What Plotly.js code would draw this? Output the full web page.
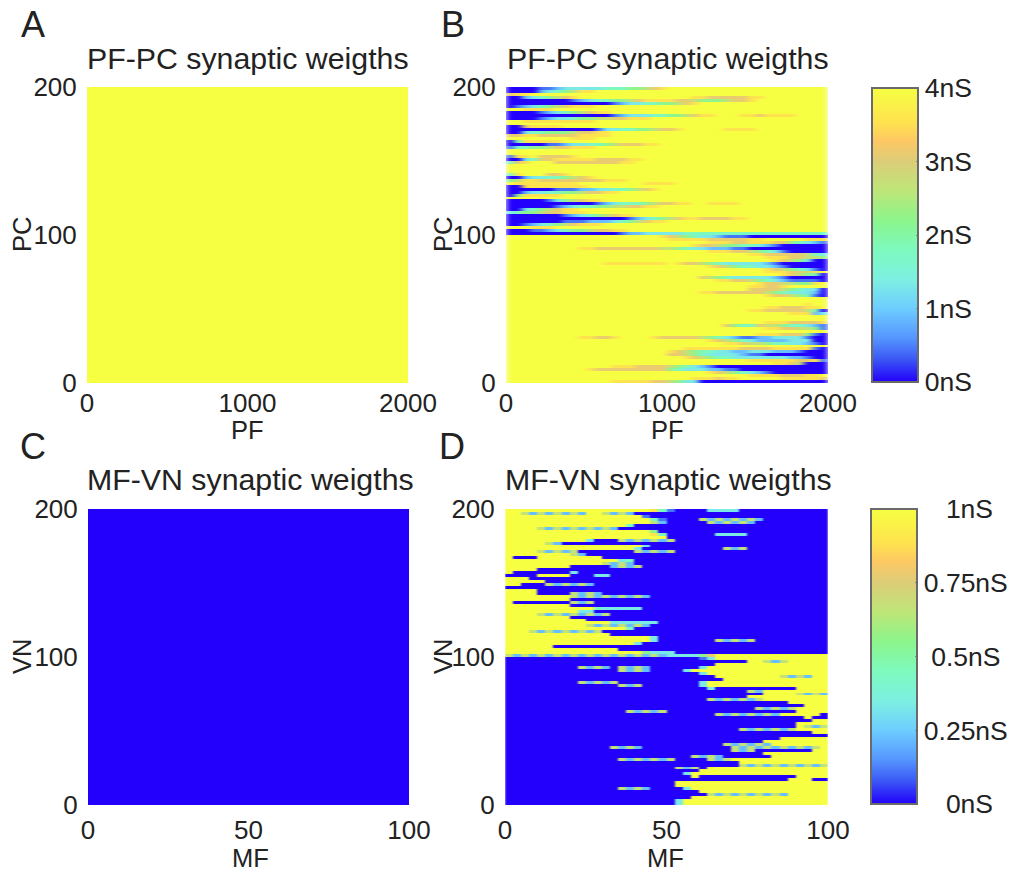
<!DOCTYPE html>
<html><head><meta charset="utf-8">
<script src="https://cdn.plot.ly/plotly-3.0.1.min.js"></script>
<style>html,body{margin:0;padding:0;background:#fff;overflow:hidden}#g{width:1013px;height:873px}</style>
</head><body>
<svg width="0" height="0" style="position:absolute"><defs>
<filter id="softB" x="0" y="0" width="100%" height="100%" color-interpolation-filters="sRGB"><feGaussianBlur stdDeviation="3 0.7" edgeMode="duplicate"/></filter>
<filter id="softD" x="0" y="0" width="100%" height="100%" color-interpolation-filters="sRGB"><feGaussianBlur stdDeviation="1.2 0.7" edgeMode="duplicate"/></filter>
</defs></svg>
<div id="g"></div>
<script>
// Panel A and C: uniform initial weights (nS)
const pfpcInitial = [[4,4],[4,4]];
const mfvnInitial = [[0,0],[0,0]];
const pfRange = [0,2000], pcRange = [0,200], mfRange = [0,100], vnRange = [0,200];

// Panel B: rows run top (PC 200) to bottom (PC 0), 40 columns of PF; digit 0-9 = level of 4nS
const pfpcRows = [
"0000112333 3344455678 9999999999 9999999999",
"0000234568 8999999999 9999999999 9999999999",
"7889999999 9999999999 9999999999 9999999999",
"0023456789 9999999999 9998877777 8899999999",
"0000000012 3445567888 8776555677 8999999999",
"0000000000 0001233445 5678999999 9999999999",
"0123456788 8999999999 9999999999 9999999999",
"9988889999 9999999999 9999999999 9999999999",
"0000123456 7889999999 9999999999 9999999999",
"0000000000 0001233344 5567889998 8788889999",
"0000123345 5667788899 9999999999 9999999999",
"9988888888 8999999999 9999999999 9999999999",
"9999999999 9999999999 9999999999 9999999999",
"0078888999 9999999999 9999999999 9999999999",
"0000000000 0133445567 7899999888 8999999999",
"0034455567 7889999999 9999999999 9999999999",
"7788777778 8889999999 9999999999 9999999999",
"9999999988 8999999999 9999999999 9999999999",
"0488888999 9999999999 9999999999 9999999999",
"0000011233 4456777889 9999999999 9999999999",
"1445567788 8999999999 9999999999 9999999999",
"9999999999 9999999999 9999999999 9999999999",
"9999999999 9999999999 9999999999 9999999999",
"1889777789 9999999999 9999999999 9999999999",
"0034778888 8777788999 9999999999 9999999999",
"4789997777 7777889999 9999999999 9999999999",
"9999999999 9999999999 9999999999 9999999999",
"9999999999 9999999999 9999999999 9999999999",
"9999999999 9999999999 9999999999 9999999999",
"4899977899 9999999999 9999999999 9999999999",
"0023344567 8999999999 9999999999 9999999999",
"5688777777 7788899999 9999999999 9999999999",
"9888888889 9999999888 8999999999 9999999999",
"0088888888 9999999999 9999999999 9999999999",
"0000001112 2334456789 9999999999 9999999999",
"0023344556 7788999999 9999999999 9999999999",
"0588888999 9999999999 9999999999 9999999999",
"9999999999 9999999999 9999999999 9999999999",
"0000013567 8899999999 9999999999 9999999999",
"0000000000 0123444567 7889988889 9999999999",
"0000001234 4556677889 9999999999 9999999999",
"0034567889 9999999999 9999999999 9999999999",
"3455677888 9999999999 9999999999 9999999999",
"0000000123 4567889999 9999999999 9999999999",
"0000000000 0000012345 6788777788 9999999999",
"0000000111 2223456788 9999999999 9999999999",
"0012345678 8899999999 9999999999 9999999999",
"9998889999 9999999999 9999999999 9999999999",
"0001123455 6778899999 9999999999 9999999999",
"0000000000 0000122333 3344444444 4444444444",
"9999999999 9999999998 7654332111 0000000000",
"9999999999 9999999999 8888877777 8899999888",
"9999999999 9999999999 9999988877 8887754321",
"9999999999 9999999999 9998776554 4321000000",
"9999999998 8777777776 6543322211 0000000000",
"9999999999 9999999999 9999988877 6543100000",
"9999999999 9999999999 9999999999 8877777643",
"9999999999 9999999999 9999999999 9988877665",
"9999999999 9999999999 9999999999 9998765300",
"9999999999 9988888888 9877654333 3321000000",
"9999999999 9999999999 9999987654 4332100000",
"9999999999 9999999999 9999999999 9987654310",
"9999999999 9999999999 9999999999 9988877689",
"9999999999 9999999999 9999999999 9999876540",
"9999999999 9999999999 9999765433 3332100000",
"9999999999 9999999999 9999998877 6543211110",
"9999999999 9999999999 9999999999 9877665589",
"9999999999 9999999999 9999999999 8877899999",
"9999999999 9999999999 9999999999 7777654330",
"9999999999 9999999999 9999887777 7765433320",
"9999999999 9999999999 9999999999 9987765410",
"9999999999 9999999999 9999999999 9999999999",
"9999999999 9999999999 9999999999 9999999999",
"9999999999 9999999999 9999999999 9999999899",
"9999999999 9999999999 9999999999 9988777889",
"9999999999 9999999999 9999999999 8877777640",
"9999999999 9999999999 9999999999 9999988823",
"9999999999 9999999999 9999999999 9999999999",
"9999999999 9999999999 9999999999 9999999999",
"9999999999 9999999999 9999999999 9988877778",
"9999999999 9999999999 9999999754 4766544321",
"9999999999 9999999999 9999999999 9988776651",
"9999999999 9999999999 9999999999 9999999999",
"9999999999 9999999999 9999999999 9888777510",
"9999999998 8778999987 7777654321 1223333100",
"9999999999 9999999999 9999987654 3222233300",
"9999999999 9999999999 9999999887 6654433210",
"9999999999 9999999999 9999999999 9999999999",
"9999999999 9999999999 9988888887 7778888810",
"9999999999 9999999999 8765443322 3332221000",
"9999999999 9999999999 7765433332 1100000000",
"9999999999 9999999999 9987654433 3333322100",
"9999999999 9999999999 9999999999 8888887781",
"9999999999 9999999999 9999999999 9998876000",
"9999999999 9998887777 6543210000 0000000000",
"9999999999 8777777777 5433322110 0000000000",
"9999999999 9999999999 9999987654 3210000000",
"9999999999 9999999999 9999999999 8888777889",
"9999999999 9999999999 9998887889 9999888887",
"9999999999 9998888877 6533000000 0000000000"
];

// Panel D: rows run top (VN 200) to bottom (VN 0), 40 columns of MF; digit 0-9 = level of 1nS
const mfvnRows = [
"9999999999 9999999984 1000033330 0000000000",
"9962626262 9962620000 0000000000 0000000000",
"9999999999 9999999100 0000000000 0000000000",
"9999999999 9999999941 0000626262 6200000000",
"9999999999 9999999962 0000062626 2000000000",
"9999999999 9999940000 0000000000 0000000000",
"9999626262 6262000000 0000000000 0000000000",
"9999999999 9999999950 0000000000 0000000000",
"9999999999 9999999984 0000003333 0000000000",
"9999999999 9999999999 0000000000 0000000000",
"9999999999 3000626262 6000000000 0000000000",
"9999962000 0000000000 0000000000 0000000000",
"9999999999 9999999300 0000000000 0000000000",
"9999999999 9999993000 0000000626 0000000000",
"9999626260 0000006262 6000000000 0000000000",
"9999999962 0000000000 0000000000 0000000000",
"9000999999 9900000000 0000000000 0000000000",
"9999999999 9999340000 0000000000 0000000000",
"9999999999 9962620000 0000000000 0000000000",
"9999999900 0002626000 0000000000 0000000000",
"9999000000 0000000000 0000000000 0000000000",
"9000000030 0000000000 0000000000 0000000000",
"0000999900 0330000000 0000000000 0000000000",
"9990000000 0000000000 0000000000 0000000000",
"9999900000 0000000000 0000000000 0000000000",
"9900062626 2000000000 0000000000 0000000000",
"0000000000 0000000000 0000000000 0000000000",
"9999000000 0000000000 0000000000 0000000000",
"9999000062 6200000000 0000000000 0000000000",
"9999999962 6262626200 0000000000 0000000000",
"9999999900 0000000000 0000000000 0000000000",
"9000000062 6000000000 0000000000 0000000000",
"9999999900 0000000000 0000000000 0000000000",
"9999999999 9433333000 0000000000 0000000000",
"9999999993 3000000000 0000000000 0000000000",
"9999626262 6260000000 0000000000 0000000000",
"9999999900 0000000000 0000000000 0000000000",
"9999999999 0000000000 0000000000 0000000000",
"9999999999 9993333330 0000000000 0000000000",
"9999999999 6262626200 0000000000 0000000000",
"9999999999 9999940000 0000000000 0000000000",
"9996262626 2600000000 0000000000 0000000000",
"9999999999 9990000000 0000000000 0000000000",
"9999999999 9999999930 0000000000 0000000000",
"9999999999 9999999930 0000006262 6000000000",
"9999999999 9999993000 0000000000 0000000000",
"9999990000 0000000000 0000000000 0000000000",
"9999999999 9999000000 0000000000 0000000000",
"9999999999 9999999533 3000000000 0000000000",
"6262626262 6262626262 3333579999 9999999999",
"0000000000 0000000000 0000139999 9999999999",
"0000000000 0000000000 0000000000 9962699999",
"0000000000 0000000000 0000009999 9999999999",
"0000000006 2620626200 0000399999 9999999999",
"0000000000 0000626200 0039999999 9999999999",
"0000000000 0000000000 0000399999 9999999999",
"0000000000 0000000000 0000009999 9999626299",
"0000000000 0000000000 0000000999 9999999999",
"0000000006 2626000000 0000399999 9999999999",
"0000000000 0000626000 0000399999 9999999999",
"0000000000 0000000000 0000030000 0000009999",
"0000000000 0000000000 0000000000 6299999999",
"0000000000 0000000000 0000000000 0099996262",
"0000000000 0000000000 0000000000 9999999999",
"0000000000 0000000000 0000062626 2699999999",
"0000000000 0000000000 0000000000 0000099999",
"0000000000 0000000000 0000000000 0000000999",
"0000000000 0000000000 0000000000 0626269999",
"0000000000 0000062626 0000000000 0000009999",
"0000000000 0000000000 0000006262 6262999990",
"0000000000 0000000000 0000000000 0000000900",
"0000000000 0000000000 0000000000 0000000099",
"0000000000 0000000000 0000000000 0000009999",
"0000000000 0000000000 0000000000 0000009626",
"0000000000 0000000000 0000000006 2626269999",
"0000000000 0000000000 0000000000 0000000099",
"0000000000 0000000000 0000000000 0000000000",
"0000000000 0000000000 0000000000 0000999999",
"0000000000 0000000000 0000000000 0099999999",
"0000000000 0000000000 0000000626 2629999999",
"0000000000 0006262000 0000000062 6262626269",
"0000000000 0000000000 0000000062 6000000099",
"0000000000 0000000000 0000000000 0099999999",
"0000000000 0000000000 0006262000 0009999999",
"0000000000 0000626262 6000062699 9999999999",
"0000000000 0000000000 0000000009 9999999999",
"0000000000 0000000000 0000000006 2626262626",
"0000000000 0000000000 0626099999 9999999999",
"0000000000 0000000000 0000999999 9999999999",
"0000000000 0000000000 0039999999 9999999999",
"0000000000 0000000000 0009000000 0000009999",
"0000000000 0000000000 0000000000 0000099900",
"0000000000 0000000000 0999999999 9999999999",
"0000000000 0000000000 0999999999 9999999999",
"0000000000 0000626200 0039999999 9999999999",
"0000000000 0000000000 0000999999 9999999999",
"0000000000 0000000000 0000062626 2626299999",
"0000000000 0000000000 0009999999 9999999999",
"0000000000 0000000000 0399999999 9999999999",
"0000000000 0000000000 0399999999 9999999999"
];

const panelTitles = ["PF-PC synaptic weigths","PF-PC synaptic weigths","MF-VN synaptic weigths","MF-VN synaptic weigths"];
const panelLetters = ["A","B","C","D"];
const xTitles = ["PF","PF","MF","MF"], yTitles = ["PC","PC","VN","VN"];
const pfTicks = [0,1000,2000], mfTicks = [0,50,100], vertTicks = [0,100,200];
const pfpcBarVals = [0,1,2,3,4];
const pfpcBarText = ["0nS","1nS","2nS","3nS","4nS"];
const mfvnBarVals = [0,0.25,0.5,0.75,1];
const mfvnBarText = ["\u00a0\u00a0\u00a00nS","0.25nS","\u00a00.5nS","0.75nS","\u00a0\u00a0\u00a01nS"];

const jet = [[0,"#2200fb"],[0.08,"#3c5af5"],[0.15,"#5596ff"],[0.25,"#6ecdff"],[0.35,"#7df0e1"],
 [0.45,"#7dfabe"],[0.55,"#8cf58c"],[0.65,"#bee678"],[0.75,"#dccd78"],[0.82,"#fdc864"],[0.88,"#ffe150"],[1,"#f6ff42"]];

const W = 1013, H = 873, FONT = "Liberation Sans, Arial, sans-serif", INK = "#222";
const toMatrix = (rows, full) => rows.map(r => r.replace(/ /g,"").split("").map(c => +c/9*full)).reverse();
const dom = (a,b,size) => [a/size,b/size];
const ydom = (top,bot) => [1-bot/H,1-top/H];

function cbar(top, left, len, vals, text){
  return {x:left/W, xanchor:"left", y:1-top/H, yanchor:"top", xref:"paper", yref:"paper",
    lenmode:"pixels", len:len, thicknessmode:"pixels", thickness:46, xpad:0, ypad:0,
    outlinewidth:2, outlinecolor:"#6a6a6a", borderwidth:0,
    tickmode:"array", tickvals:vals, ticktext:text, ticks:"inside", ticklen:3, tickcolor:"#888",
    tickfont:{family:FONT,size:26.5,color:INK}};
}
const traces = [
 {type:"heatmap", z:pfpcInitial, x:pfRange, y:pcRange, zmin:0, zmax:4, colorscale:jet, showscale:false, xaxis:"x", yaxis:"y"},
 {type:"heatmap", z:toMatrix(pfpcRows,4), x0:25, dx:50, y0:1, dy:2, zmin:0, zmax:4, colorscale:jet, xaxis:"x2", yaxis:"y2",
  colorbar:cbar(88,872,294,pfpcBarVals,pfpcBarText)},
 {type:"heatmap", z:mfvnInitial, x:mfRange, y:vnRange, zmin:0, zmax:1, colorscale:jet, showscale:false, xaxis:"x3", yaxis:"y3"},
 {type:"heatmap", z:toMatrix(mfvnRows,1), x0:1.25, dx:2.5, y0:1, dy:2, zmin:0, zmax:1, colorscale:jet, xaxis:"x4", yaxis:"y4",
  colorbar:cbar(509,871,295,mfvnBarVals,mfvnBarText)}
];
function xax(l,r,range,ticks,anchor,len,standoff){
  return {domain:dom(l,r,W), range:range, tickmode:"array", tickvals:ticks, ticktext:ticks.map(String), anchor:anchor,
    ticks:"outside", ticklen:len, ticklabelstandoff:standoff, tickcolor:"rgba(0,0,0,0)", showgrid:false, zeroline:false, showline:false,
    tickfont:{family:FONT,size:26,color:INK}};
}
function yax(t,b,range,anchor){
  return {domain:ydom(t,b), range:range, tickmode:"array", tickvals:vertTicks, ticktext:vertTicks.map(String), anchor:anchor,
    ticks:"outside", ticklen:4, tickcolor:"rgba(0,0,0,0)", showgrid:false, zeroline:false, showline:false,
    tickfont:{family:FONT,size:26,color:INK}};
}
const titlePos = [[248,59],[668,59],[250,479],[668,479]];
const letterPos = [[33,24],[453,24],[33,447],[452,447]];
const xTitlePos = [[247,430],[667,430],[250,858],[665,858]];
const yTitlePos = [[22,235],[443,235],[22,657],[443,657]];
const ann = [];
const note = (t,p,size,angle) => ann.push({text:t,xref:"paper",yref:"paper",x:p[0]/W,y:1-p[1]/H,xanchor:"center",yanchor:"middle",showarrow:false,textangle:angle||0,font:{family:FONT,size:size,color:INK}});
panelTitles.forEach((t,i)=>note(t,titlePos[i],30.3));
panelLetters.forEach((t,i)=>note(t,letterPos[i],36));
xTitles.forEach((t,i)=>note(t,xTitlePos[i],25.5));
yTitles.forEach((t,i)=>note(t,yTitlePos[i],25.5,-90));

const layout = {width:W,height:H,margin:{l:0,r:0,t:0,b:0},paper_bgcolor:"#fff",plot_bgcolor:"#fff",annotations:ann,showlegend:false,
 xaxis:xax(87,408,pfRange,pfTicks,"y",0,-3), yaxis:yax(87,383,pcRange,"x"),
 xaxis2:xax(506,828,pfRange,pfTicks,"y2",0,-3), yaxis2:yax(87,383,pcRange,"x2"),
 xaxis3:xax(88,409,mfRange,mfTicks,"y3",2,0), yaxis3:yax(509,805,vnRange,"x3"),
 xaxis4:xax(505,828,mfRange,mfTicks,"y4",2,0), yaxis4:yax(509,805,vnRange,"x4")};
Plotly.newPlot("g",traces,layout,{displayModeBar:false,staticPlot:true}).then(gd=>{
  const imgs = gd.querySelectorAll(".hm image");
  if(imgs[1]) imgs[1].style.filter = "url(#softB)";
  if(imgs[3]) imgs[3].style.filter = "url(#softD)";
});
</script></body></html>
